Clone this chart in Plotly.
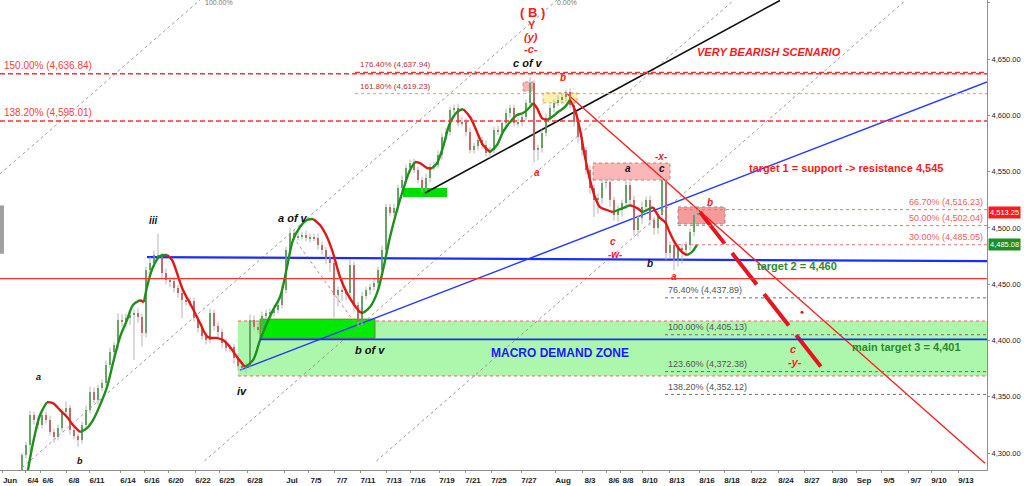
import plotly.graph_objects as go

# ---------------- data ----------------
first_open = 4285.0
closes = [
    4298.2, 4307.1, 4333.8, 4329.3, 4324.9, 4333.8, 4329.3, 4318.7, 4314.2, 4322.2,
    4336.4, 4340.0, 4320.4, 4315.1, 4311.6, 4324.9, 4338.2, 4354.2, 4347.1, 4357.7,
    4362.2, 4378.2, 4389.7, 4395.9, 4418.2, 4416.4, 4419.9, 4422.6, 4424.4, 4420.8,
    4406.6, 4462.6, 4468.8, 4475.9, 4475.0, 4459.9, 4453.7, 4452.5, 4446.6, 4442.1,
    4435.9, 4434.1, 4435.0, 4419.9, 4411.0, 4403.9, 4400.4, 4424.4, 4412.8, 4407.5,
    4397.7, 4393.3, 4394.2, 4384.4, 4377.3, 4375.5, 4377.3, 4418.2, 4411.9, 4409.3,
    4421.7, 4424.4, 4425.3, 4427.0, 4431.5, 4444.8, 4480.3, 4495.4, 4491.9, 4492.8,
    4493.7, 4491.0, 4491.9, 4491.0, 4484.8, 4480.3, 4473.2, 4468.8, 4440.4, 4444.8,
    4443.0, 4442.1, 4467.0, 4431.5, 4416.4, 4439.5, 4444.8, 4447.5, 4451.0, 4462.6,
    4480.3, 4518.5, 4513.2, 4517.6, 4535.4, 4542.5, 4553.2, 4557.6, 4551.4, 4542.5,
    4535.4, 4544.3, 4554.1, 4555.8, 4564.7, 4580.7, 4585.2, 4604.7, 4606.5, 4593.1,
    4594.5, 4585.2, 4569.2, 4572.7, 4578.0, 4573.6, 4566.5, 4569.2, 4586.9, 4585.5,
    4593.1, 4602.0, 4606.5, 4593.1, 4594.0, 4598.5, 4610.9, 4628.7, 4569.2, 4570.9,
    4584.3, 4597.6, 4606.5, 4610.9, 4613.6, 4616.2, 4620.7, 4609.1, 4594.0, 4580.7,
    4569.2, 4551.4, 4535.4, 4524.7, 4526.5, 4539.9, 4540.7, 4524.7, 4511.4, 4515.9,
    4522.1, 4538.1, 4524.7, 4498.1, 4508.8, 4518.5, 4524.7, 4507.0, 4499.9, 4511.4,
    4542.5, 4477.7, 4484.8, 4471.5, 4482.1, 4480.3, 4484.8, 4496.3, 4511.4, 4513.25,
]
up_wick = [
    2, 3, 4, 3, 3, 3, 3, 4, 3, 3,
    3, 6, 3, 3, 2, 3, 4, 5, 4, 3,
    3, 4, 4, 3, 6, 5, 4, 3, 3, 4,
    3, 3, 5, 4, 19, 3, 4, 3, 4, 3,
    3, 3, 4, 3, 3, 5, 3, 4, 3, 4,
    3, 4, 3, 3, 4, 3, 3, 5, 4, 4,
    4, 3, 3, 5, 3, 4, 3, 5, 3, 4,
    3, 4, 3, 3, 4, 3, 3, 3, 4, 3,
    3, 3, 5, 3, 3, 4, 3, 3, 4, 3,
    4, 3, 3, 4, 3, 4, 3, 3, 4, 3,
    3, 4, 3, 3, 4, 3, 4, 3, 3, 4,
    4, 3, 4, 3, 3, 3, 4, 3, 3, 4,
    3, 4, 3, 3, 4, 3, 3, 5, 3, 3,
    3, 4, 3, 3, 4, 3, 2, 3, 4, 3,
    4, 3, 4, 3, 4, 3, 3, 4, 3, 4,
    3, 4, 3, 4, 3, 5, 3, 4, 3, 4,
    2, 3, 3, 3, 3, 4, 3, 3, 4, 3,
]
dn_wick = [
    0, 3, 6, 4, 4, 3, 3, 3, 5, 3,
    3, 3, 4, 3, 6, 3, 3, 3, 3, 4,
    3, 3, 3, 3, 4, 4, 5, 6, 40, 5,
    12, 4, 4, 3, 4, 5, 4, 5, 4, 4,
    16, 3, 4, 3, 4, 3, 4, 3, 4, 5,
    4, 3, 4, 5, 4, 3, 4, 3, 3, 3,
    3, 3, 3, 4, 3, 3, 3, 3, 3, 3,
    3, 3, 4, 3, 4, 4, 5, 8, 20, 10,
    8, 6, 4, 6, 4, 3, 3, 4, 3, 4,
    3, 4, 3, 3, 4, 3, 3, 4, 3, 3,
    4, 3, 4, 3, 3, 4, 3, 3, 3, 3,
    3, 4, 3, 3, 4, 3, 3, 4, 3, 3,
    3, 3, 4, 3, 3, 4, 3, 3, 11, 9,
    4, 3, 3, 4, 3, 3, 4, 3, 4, 5,
    5, 4, 5, 15, 12, 5, 5, 6, 5, 6,
    6, 5, 6, 5, 6, 5, 6, 5, 6, 5,
    5, 6, 5, 9, 6, 12, 5, 5, 4, 4,
]

tick_bars = [-5.0, 0.75, 4.5, 11, 16.75, 24.5, 30.5, 36.5, 43.25, 49.25, 56.25, 65.5,
             71.5, 78, 84.5, 91, 97, 104.25, 110.75, 117.25, 124.75, 133.25, 140, 146,
             149.5, 155, 161.75, 169.25, 175.5, 182.25, 189, 195.5, 202.5, 208.5,
             214.75, 221.5, 227.25, 234]
tick_labels = ["Jun", "6/4", "6/6", "6/8", "6/11", "6/14", "6/16", "6/20", "6/22", "6/25",
               "6/28", "Jul", "7/5", "7/7", "7/11", "7/13", "7/16", "7/19", "7/21", "7/25",
               "7/27", "Aug", "8/3", "8/6", "8/8", "8/10", "8/13", "8/16", "8/18", "8/22",
               "8/24", "8/27", "8/30", "Sep", "9/5", "9/7", "9/10", "9/13"]
price_ticks = [4300, 4350, 4400, 4450, 4500, 4550, 4600, 4650, 4700]

ma_bar = [1.5, 2.75, 4.5, 6.25, 7.75, 9.5, 11.25, 12.75, 14.5, 16.25, 17.75, 19.5, 21.25,
          22.75, 24.5, 26.25, 27.75, 29.5, 30.5, 31.25, 32.75, 34.5, 36.25, 37.5, 38.75,
          40.25, 42.5, 44.5, 46.5, 48.75, 50.25, 52, 53.75, 55.75, 57.75, 59.5, 61.25,
          62.75, 64.5, 66.25, 67.75, 69.5, 71.25, 72.75, 74.5, 76.25, 77.75, 79.5, 81.25,
          82.75, 84.5, 85.25, 87, 88.75, 90.25, 92, 93.75, 95.25, 97, 98.25, 99.5, 101.25,
          102.5, 103.75, 105.25, 107, 108.75, 110.25, 112, 113.75, 115.25, 117, 118.75,
          120.25, 122, 123.75, 125.25, 127, 127.75, 128.75, 130, 131.25, 132.5, 134,
          135.75, 137, 138.25, 139.5, 140.75, 142, 143.25, 144.5, 146.25, 147.75, 149,
          150.25, 152, 153.75, 155, 156.25, 157.75, 159.5, 160.75, 162, 163.25, 165,
          166.25, 167.5, 168.75]
ma_val = [4284.9, 4308.9, 4333.8, 4345.3, 4344.4, 4338.2, 4332.0, 4324.9, 4318.7, 4322.2,
          4329.3, 4342.6, 4358.6, 4380.0, 4403.1, 4418.2, 4431.5, 4435.9, 4434.1, 4447.5,
          4465.2, 4475.0, 4475.9, 4471.5, 4459.9, 4444.8, 4429.7, 4415.5, 4403.0, 4402.2,
          4400.4, 4394.2, 4385.3, 4376.4, 4382.6, 4400.4, 4415.5, 4427.0, 4438.6, 4465.2,
          4489.2, 4500.8, 4507.0, 4507.9, 4502.5, 4491.9, 4477.7, 4456.4, 4442.1, 4433.3,
          4425.3, 4424.4, 4429.7, 4442.1, 4462.6, 4491.9, 4515.9, 4533.6, 4551.4, 4558.5,
          4557.6, 4553.2, 4553.0, 4557.6, 4571.8, 4593.1, 4602.9, 4605.6, 4598.5, 4585.2,
          4573.6, 4567.4, 4573.6, 4585.2, 4594.0, 4600.3, 4602.0, 4607.4, 4610.9, 4606.5,
          4597.6, 4595.8, 4598.5, 4602.9, 4607.4, 4613.6, 4604.7, 4586.9, 4563.0, 4542.5,
          4527.4, 4518.5, 4515.9, 4514.1, 4515.9, 4517.6, 4520.3, 4517.6, 4514.1, 4515.9,
          4518.5, 4508.8, 4505.2, 4495.4, 4486.6, 4478.6, 4475.9, 4478.6, 4485.08]

last_price = 4513.25
ma_last = 4485.08

# horizontal levels
red_solid_level = 4455.0
fib_left = [(4636.84, "150.00% (4,636.84)"), (4595.01, "138.20% (4,595.01)")]
fib_top = [(4637.94, "176.40% (4,637.94)", "dash"), (4619.23, "161.80% (4,619.23)", "dot")]
fib_pink = [(4516.23, "66.70% (4,516.23)"), (4502.04, "50.00% (4,502.04)"), (4485.05, "30.00% (4,485.05)")]
fib_gray = [(4437.89, "76.40% (4,437.89)"), (4405.13, "100.00% (4,405.13)"),
            (4372.38, "123.60% (4,372.38)"), (4352.12, "138.20% (4,352.12)")]
zone_top, zone_bot = 4417.3, 4368.5
target3 = 4401.0

# ---------------- figure ----------------
GREEN = "#1f8f1f"
RED = "#e01818"
XR = [-5.5, 241.25]
YR = [4285.0, 4702.4]

opens = [first_open] + closes[:-1]
highs = [max(o, c) + u for o, c, u in zip(opens, closes, up_wick)]
lows = [min(o, c) - d for o, c, d in zip(opens, closes, dn_wick)]
bars = list(range(len(closes)))

fig = go.Figure()

shapes = []
# macro demand zone
shapes.append(dict(type="rect", xref="x", yref="y", x0=54, x1=XR[1], y0=zone_bot, y1=zone_top,
                   fillcolor="#adf7ad", line=dict(width=0), layer="below"))
for lv in (zone_top, zone_bot):
    shapes.append(dict(type="line", xref="x", yref="y", x0=54, x1=XR[1], y0=lv, y1=lv,
                       line=dict(color="#ff6060", width=1, dash="dot"), layer="below"))
# green boxes
shapes.append(dict(type="rect", xref="x", yref="y", x0=59.5, x1=88.25, y0=4402, y1=4419,
                   fillcolor="#00ea00", line=dict(color="#8a7a2a", width=1), layer="below"))
shapes.append(dict(type="rect", xref="x", yref="y", x0=95.25, x1=106.25, y0=4527.4, y1=4535.4,
                   fillcolor="#00dd00", line=dict(width=0), layer="below"))
# pink / yellow boxes
shapes.append(dict(type="rect", xref="x", yref="y", x0=125.25, x1=127.75, y0=4621.6, y1=4629.6,
                   fillcolor="rgba(250,150,150,0.7)", line=dict(color="#e08080", width=1, dash="dot"), layer="below"))
shapes.append(dict(type="rect", xref="x", yref="y", x0=130.25, x1=138.75, y0=4611, y1=4620,
                   fillcolor="rgba(255,240,160,0.9)", line=dict(color="#d0b060", width=1, dash="dot"), layer="below"))
shapes.append(dict(type="rect", xref="x", yref="y", x0=142.75, x1=162, y0=4542.5, y1=4557.6,
                   fillcolor="rgba(250,170,170,0.85)", line=dict(color="#e07070", width=1, dash="dot"), layer="below"))
shapes.append(dict(type="rect", xref="x", yref="y", x0=164, x1=175.75, y0=4503.5, y1=4518.6,
                   fillcolor="rgba(242,130,130,0.8)", line=dict(color="#909090", width=1, dash="dot"), layer="below"))
# small grey side tab
shapes.append(dict(type="rect", xref="paper", yref="y", x0=0, x1=0.004, y0=4477, y1=4520,
                   fillcolor="#a0a0a0", line=dict(width=0)))

# full width levels
shapes.append(dict(type="line", xref="paper", yref="y", x0=0, x1=1, y0=red_solid_level, y1=red_solid_level,
                   line=dict(color="#ff3030", width=1.3)))
for lv, _ in fib_left:
    shapes.append(dict(type="line", xref="paper", yref="y", x0=0, x1=1, y0=lv, y1=lv,
                       line=dict(color="#ff3030", width=1.5, dash="5px,3px")))
for lv, _, ds in fib_top:
    shapes.append(dict(type="line", xref="x", yref="y", x0=83.25, x1=XR[1], y0=lv, y1=lv,
                       line=dict(color="#ff3030" if ds == "dash" else "#f09090", width=1.5 if ds == "dash" else 1,
                                 dash="5px,3px" if ds == "dash" else "dot")))
for lv, _ in fib_pink:
    shapes.append(dict(type="line", xref="x", yref="y", x0=164, x1=XR[1], y0=lv, y1=lv,
                       line=dict(color="#f07070", width=1, dash="dot")))
for lv, _ in fib_gray:
    shapes.append(dict(type="line", xref="x", yref="y", x0=160.75, x1=XR[1], y0=lv, y1=lv,
                       line=dict(color="#707070", width=1, dash="dot")))
# blue horizontals
shapes.append(dict(type="line", xref="x", yref="y", x0=59.5, x1=XR[1], y0=target3, y1=target3,
                   line=dict(color="#1a2cff", width=1.6)))
fig.update_layout(shapes=shapes)


def line(xs, ys, color, width, dash="solid"):
    fig.add_trace(go.Scatter(x=xs, y=ys, mode="lines", line=dict(color=color, width=width, dash=dash),
                             hoverinfo="skip", showlegend=False))


# grey dotted channel lines (parallel)
line([-5.5, 44.5], [4548.0, 4702.4], "#9a9a9a", 1, "dot")
line([0.0, 133.75], [4287.0, 4702.4], "#9a9a9a", 1, "dot")
line([45.6, 178.0], [4293.0, 4702.4], "#9a9a9a", 1, "dot")
line([88.6, 221.0], [4293.0, 4702.4], "#9a9a9a", 1, "dot")
# a of v -> b of v dotted
line([67.75, 83.25], [4492.0, 4415.5], "#e08080", 1, "dot")
# trend lines
line([31.25, XR[1]], [4474.0, 4470.5], "#1a2cff", 2.2)
line([54.5, XR[1]], [4373.7, 4629.6], "#2a3cff", 1.5)
line([100.75, 189.5], [4531.0, 4702.0], "#111111", 1.6)
line([135.75, 240.75], [4620.7, 4291.0], "#ff2020", 1.4)
line([169.5, 201.0], [4514.0, 4371.0], "#e8141e", 4, "40px,12px")
fig.add_trace(go.Scatter(x=[195], y=[4425], mode="markers", marker=dict(color="#e8141e", size=3),
                         hoverinfo="skip", showlegend=False))

# candle wicks
wx, wy = [], []
for b, l, h in zip(bars, lows, highs):
    wx += [b, b, None]
    wy += [l, h, None]
fig.add_trace(go.Scatter(x=wx, y=wy, mode="lines", line=dict(color="#b4b4b4", width=1),
                         hoverinfo="skip", showlegend=False))
# candle bodies
fig.add_trace(go.Bar(x=bars, y=[max(abs(c - o), 0.4) for o, c in zip(opens, closes)],
                     base=[min(o, c) for o, c in zip(opens, closes)],
                     marker=dict(color=[GREEN if c >= o else "#d42020" for o, c in zip(opens, closes)],
                                 line=dict(width=0)),
                     width=0.6, hoverinfo="skip", showlegend=False))

# moving average coloured by direction
seg_x, seg_y, seg_up = [ma_bar[0]], [ma_val[0]], None
for i in range(1, len(ma_bar)):
    up = ma_val[i] >= ma_val[i - 1]
    if seg_up is None or up == seg_up:
        seg_x.append(ma_bar[i]); seg_y.append(ma_val[i]); seg_up = up
    else:
        line(seg_x, seg_y, GREEN if seg_up else RED, 2.4)
        fig.data[-1].line.shape = "spline"
        seg_x, seg_y, seg_up = [ma_bar[i - 1], ma_bar[i]], [ma_val[i - 1], ma_val[i]], up
line(seg_x, seg_y, GREEN if seg_up else RED, 2.4)
fig.data[-1].line.shape = "spline"

# ---------------- annotations ----------------
ann = []


def txt(x, y, s, color, size, xanchor="center", yanchor="middle", xref="x", font="Liberation Sans"):
    ann.append(dict(x=x, y=y, xref=xref, yref="y", text=s, showarrow=False, xanchor=xanchor,
                    yanchor=yanchor, font=dict(color=color, size=size, family=font)))


txt(127.5, 4690.9, "<b>( B )</b>", "#ff1a1a", 13)
txt(127.5, 4680.2, "<b>Y</b>", "#ff1a1a", 11)
txt(127.25, 4669.5, "<b><i>(y)</i></b>", "#ff1a1a", 11)
txt(127.25, 4658.9, "<b><i>-c-</i></b>", "#ff1a1a", 11)
txt(126.5, 4646.4, "<b><i>c of v</i></b>", "#111111", 11)
txt(133.3, 4699.8, "0.00%", "#777777", 7, xanchor="left")
txt(45.3, 4699.8, "100.00%", "#777777", 7, xanchor="left")
for lv, s in fib_left:
    txt(0.002, lv + 1, s, "#ff4040", 10, xanchor="left", yanchor="bottom", xref="paper")
for lv, s, _ in fib_top:
    txt(84.0, lv + 1, s, "#b83030", 8, xanchor="left", yanchor="bottom")
for lv, s in fib_pink:
    txt(0.998, lv + 0.5, s, "#f06060", 9, xanchor="right", yanchor="bottom", xref="paper")
for lv, s in fib_gray:
    txt(161.0, lv + 0.5, s, "#555555", 9, xanchor="left", yanchor="bottom")
txt(186.75, 4656.2, "<b><i>VERY BEARISH SCENARIO</i></b>", "#ff1a1a", 11)
txt(206.0, 4553.2, "<b>target 1 = support -> resistance 4,545</b>", "#ff1a1a", 11)
txt(193.75, 4466.0, "<b>target 2 = 4,460</b>", "#2e8b2e", 11)
txt(221.0, 4394.2, "<b>main target 3 = 4,401</b>", "#2e8b2e", 11)
txt(192.75, 4392.4, "<b><i>c</i></b>", "#ff1a1a", 11)
txt(193.25, 4380.9, "<b><i>-y-</i></b>", "#ff1a1a", 11)
txt(134.5, 4388.9, "<b>MACRO DEMAND ZONE</b>", "#1a1aff", 12)
txt(87.0, 4391.5, "<b><i>b of v</i></b>", "#111111", 11)
txt(67.75, 4508.8, "<b><i>a of v</i></b>", "#111111", 11)
txt(32.75, 4507.0, "<b><i>iii</i></b>", "#111111", 10)
txt(55.0, 4355.0, "<b><i>iv</i></b>", "#111111", 11)
txt(4.0, 4367.5, "<b><i>a</i></b>", "#111111", 9)
txt(14.5, 4293.0, "<b><i>b</i></b>", "#111111", 9)
txt(128.75, 4549.6, "<b><i>a</i></b>", "#ff1a1a", 10)
txt(135.25, 4634.0, "<b><i>b</i></b>", "#ff1a1a", 10)
txt(151.5, 4553.2, "<b><i>a</i></b>", "#111111", 10)
txt(160.0, 4553.2, "<b><i>c</i></b>", "#111111", 10)
txt(159.75, 4563.8, "<b><i>-x-</i></b>", "#ff1a1a", 10)
txt(147.75, 4487.5, "<b><i>c</i></b>", "#ff1a1a", 10)
txt(148.25, 4476.0, "<b><i>-w-</i></b>", "#ff1a1a", 10)
txt(157.0, 4468.8, "<b><i>b</i></b>", "#111111", 10)
txt(163.0, 4457.0, "<b><i>a</i></b>", "#ff1a1a", 10)
txt(172.0, 4523.0, "<b><i>b</i></b>", "#ff1a1a", 10)

# price labels on the axis
for v, col in ((last_price, "#ff1a1a"), (ma_last, "#1f8f1f")):
    ann.append(dict(x=1.001, y=v, xref="paper", yref="y", text=f"{v:,.2f}", showarrow=False,
                    xanchor="left", yanchor="middle", bgcolor=col, borderpad=1,
                    font=dict(color="white", size=7.5, family="Liberation Sans")))

fig.update_layout(
    annotations=ann,
    width=1024, height=486,
    margin=dict(l=0, r=37, t=0, b=16, autoexpand=False),
    plot_bgcolor="white", paper_bgcolor="white",
    bargap=0, showlegend=False,
    xaxis=dict(range=XR, tickvals=tick_bars, ticktext=tick_labels, showgrid=False, zeroline=False,
               showline=True, linecolor="#909090", ticks="outside", ticklen=2, tickcolor="#909090",
               ticklabelshift=8, tickangle=0, automargin=False,
               tickfont=dict(size=8, color="#222222", family="Liberation Sans", weight="bold")),
    yaxis=dict(range=YR, side="right", tickvals=price_ticks, tickformat=",.2f", showgrid=False,
               zeroline=False, showline=True, linecolor="#909090", ticks="outside", ticklen=2,
               tickcolor="#909090", automargin=False,
               tickfont=dict(size=7.5, color="#222222", family="Liberation Sans")),
)

fig.write_html("out.html", config={"displayModeBar": False},
               post_script="document.body.style.margin='0';")
